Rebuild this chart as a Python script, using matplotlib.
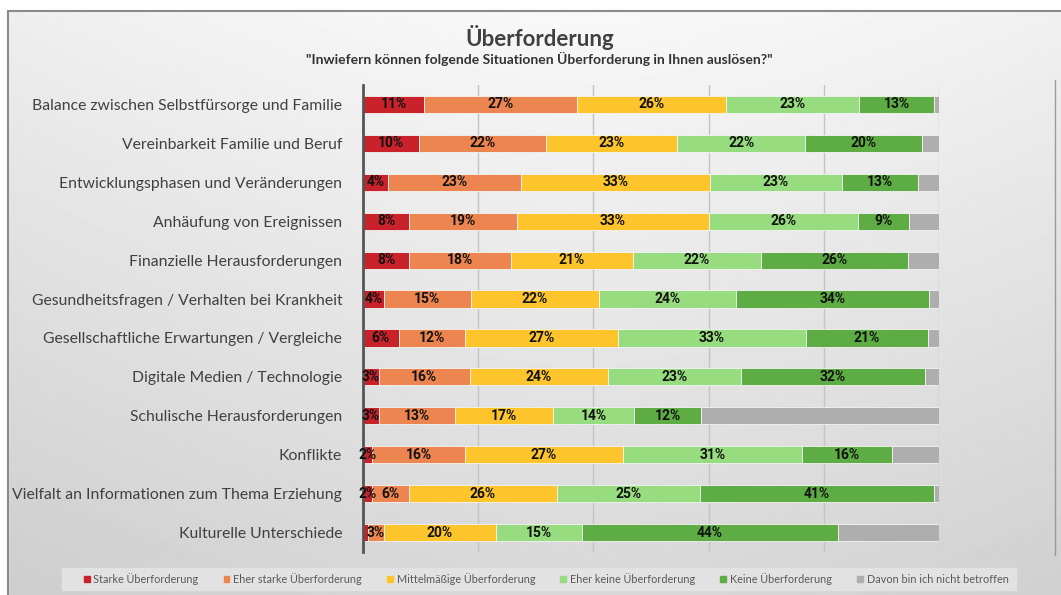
import numpy as np
import matplotlib
matplotlib.use("Agg")
import matplotlib.pyplot as plt
from matplotlib.patches import Rectangle

# situations (top to bottom)
situations = [
    "Balance zwischen Selbstfürsorge und Familie",
    "Vereinbarkeit Familie und Beruf",
    "Entwicklungsphasen und Veränderungen",
    "Anhäufung von Ereignissen",
    "Finanzielle Herausforderungen",
    "Gesundheitsfragen / Verhalten bei Krankheit",
    "Gesellschaftliche Erwartungen / Vergleiche",
    "Digitale Medien / Technologie",
    "Schulische Herausforderungen",
    "Konflikte",
    "Vielfalt an Informationen zum Thema Erziehung",
    "Kulturelle Unterschiede",
]

categories = [
    "Starke Überforderung",
    "Eher starke Überforderung",
    "Mittelmäßige Überforderung",
    "Eher keine Überforderung",
    "Keine Überforderung",
    "Davon bin ich nicht betroffen",
]
colors = ["#C9222B", "#EC8550", "#FDC52B", "#98DC80", "#5EAD44", "#AEAEAE"]

# shares in percent
starke      = [10.6, 9.7, 4.4, 8.0, 8.0, 3.6, 6.2, 2.7, 2.7, 1.6, 1.6, 0.9]
eher_starke = [26.6, 22.0, 23.0, 18.8, 17.7, 15.1, 11.5, 15.8, 13.3, 16.1, 6.3, 2.7]
mittel      = [25.8, 22.9, 32.8, 33.2, 21.2, 22.2, 26.6, 24.1, 16.9, 27.4, 25.8, 19.5]
eher_keine  = [23.1, 22.2, 23.0, 25.9, 22.2, 23.8, 32.6, 23.1, 14.2, 31.1, 24.8, 14.9]
keine       = [13.1, 20.3, 13.2, 8.9, 25.5, 33.6, 21.2, 31.8, 11.6, 15.6, 40.6, 44.4]
betroffen   = [0.8, 2.9, 3.6, 5.2, 5.4, 1.7, 1.9, 2.5, 41.3, 8.2, 0.9, 17.6]

series = [starke, eher_starke, mittel, eher_keine, keine, betroffen]

W, H = 1061, 595
fig = plt.figure(figsize=(W / 100, H / 100), dpi=100)

# background with soft gradient and frame
bg = fig.add_axes([0, 0, 1, 1], zorder=-10)
yy, xx = np.mgrid[0:1:300j, 0:1:500j]
grad = 0.975 - 0.13 * yy - 0.10 * np.abs(xx - 0.55) ** 1.5
bg.imshow(grad, cmap="gray", vmin=0, vmax=1, extent=[0, 1, 0, 1],
          aspect="auto", origin="upper")
bg.add_patch(Rectangle((0, 1 - 11 / H), 1, 11 / H, color="white", zorder=2))
bg.add_patch(Rectangle((0, 0), 8 / W, 1, color="white", zorder=2))
bg.plot([8 / W, 8 / W], [0, 1 - 11 / H], color="#8a8a8a", lw=1.5, zorder=3)
bg.plot([8 / W, 1], [1 - 11 / H, 1 - 11 / H], color="#8a8a8a", lw=1.5, zorder=3)
bg.plot([1055 / W, 1055 / W], [1 - 555 / H, 1 - 80 / H], color="#9a9a9a", lw=1, zorder=3)
# legend band
bg.add_patch(Rectangle((62 / W, 1 - 590 / H), (1016 - 62) / W, 22 / H,
                       color="#e2e2e2", zorder=2))
bg.set_xlim(0, 1)
bg.set_ylim(0, 1)
bg.axis("off")

ax = fig.add_axes([363 / W, 1 - 552 / H, (939 - 363) / W, (552 - 85) / H])
ax.patch.set_alpha(0)

y = np.arange(len(situations))
left = np.zeros(len(situations))
for i, (vals, col, name) in enumerate(zip(series, colors, categories)):
    vals = np.array(vals)
    ax.barh(y, vals, left=left, height=0.44, color=col, edgecolor="#f4f4f4",
            linewidth=0.6, label=name, zorder=3)
    if i < 5:
        for yi, l, v in zip(y, left, vals):
            if v >= 1.2:
                ax.text(l + v / 2, yi, f"{round(v)}%", ha="center", va="center",
                        fontsize=10, fontweight="bold", color="#111111",
                        family="Roboto", zorder=6)
    left += vals

ax.set_xlim(0, 100)
ax.set_ylim(len(situations) - 0.5, -0.5)
ax.set_xticks([0, 20, 40, 60, 80, 100])
ax.set_xticklabels([])
ax.tick_params(axis="x", length=0)
ax.grid(axis="x", color="#c4c4c4", lw=1, zorder=0)
ax.set_yticks(y)
ax.set_yticklabels(situations, fontsize=11.3, color="#404040", family="Lato")
ax.tick_params(axis="y", length=0, pad=15)
for s in ["top", "right", "bottom"]:
    ax.spines[s].set_visible(False)
ax.spines["left"].set_color("#555555")
ax.spines["left"].set_linewidth(2)
ax.spines["left"].set_zorder(5)

fig.text(540 / W, 1 - 37 / H, "Überforderung", ha="center", va="center",
         fontsize=16, fontweight="bold", color="#404040", family="Lato")
fig.text(539 / W, 1 - 59 / H,
         "\"Inwiefern können folgende Situationen Überforderung in Ihnen auslösen?\"",
         ha="center", va="center", fontsize=10, fontweight="bold",
         color="#333333", family="Lato")

handles = [Rectangle((0, 0), 1, 1, color=c) for c in colors]
leg = fig.legend(handles, categories, loc="center", bbox_to_anchor=(546 / W, 1 - 579 / H),
                 ncol=6, frameon=False, handlelength=0.55,
                 handleheight=0.55, handletextpad=0.35, columnspacing=2.3,
                 prop={"family": "Lato", "size": 7.8})
for t in leg.get_texts():
    t.set_color("#595959")

fig.savefig("out.png", dpi=100)
